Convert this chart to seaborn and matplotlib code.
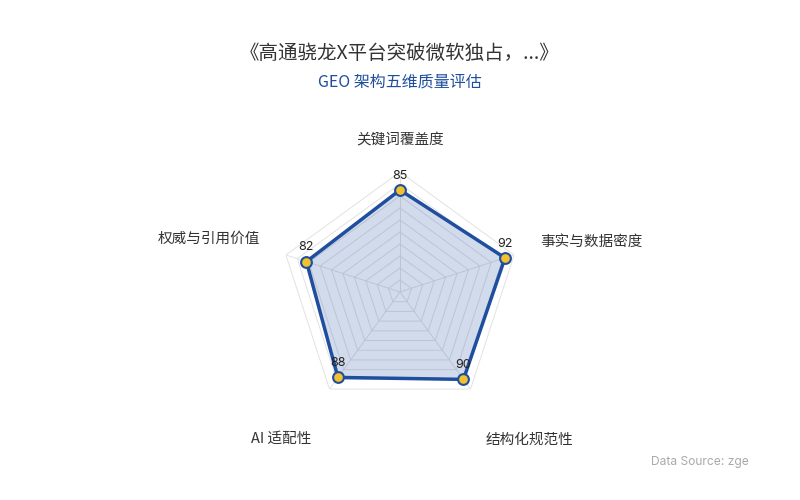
import numpy as np
import pandas as pd
import matplotlib
matplotlib.use('Agg')
import matplotlib.pyplot as plt
import seaborn as sns
from matplotlib.patches import Rectangle

# chart data
dims = ['关键词覆盖度', '事实与数据密度', '结构化规范性', 'AI 适配性', '权威与引用价值']
scores = [85, 92, 90, 88, 82]
title = '《高通骁龙X平台突破微软独占，...》'
subtitle = 'GEO 架构五维质量评估'
source = 'Data Source: zgeo.ai'

sns.set_theme(style='white')
plt.rcParams['font.family'] = ['Noto Sans CJK SC', 'DejaVu Sans']

blue = '#1f4e9f'
gold = '#f2c12e'

n = len(dims)
angles = np.linspace(0, 2 * np.pi, n, endpoint=False)
df = pd.DataFrame({'angle': np.append(angles, 2 * np.pi),
                   'score': scores + scores[:1]})

fig = plt.figure(figsize=(8, 5), dpi=100)
ax = fig.add_axes([0.35, 0.176, 0.3, 0.48], projection='polar')
ax.set_theta_offset(np.pi / 2)
ax.set_theta_direction(-1)
ax.set_ylim(0, 100)
ax.grid(False)
ax.set_xticks([])
ax.set_yticks([])
ax.spines['polar'].set_visible(False)
ax.patch.set_visible(False)

# pentagon grid + spokes
for lv in range(10, 101, 10):
    ax.plot(df['angle'], [lv] * (n + 1), color='#e2e2e2', lw=0.7, zorder=1)
for a in angles:
    ax.plot([a, a], [0, 100], color='#e2e2e2', lw=0.7, zorder=1)

ax.fill(df['angle'], df['score'], color=blue, alpha=0.2, lw=0, zorder=2)
sns.lineplot(data=df, x='angle', y='score', sort=False, estimator=None,
             color=blue, lw=2.5, ax=ax, zorder=3)
sns.scatterplot(data=df.iloc[:-1], x='angle', y='score', s=60, color=gold,
                edgecolor=blue, linewidth=1.5, ax=ax, zorder=4)
ax.set_xlabel('')
ax.set_ylabel('')

for a, v in zip(angles, scores):
    ax.annotate(str(v), xy=(a, v), xytext=(0, 6), textcoords='offset points',
                ha='center', va='bottom', fontsize=9, color='#222222',
                family=['Inter', 'DejaVu Sans'], zorder=5, annotation_clip=False)

# category labels
label_style = [('center', (0, 1)), ('left', (-2, 3)), ('left', (-2, -19)),
               ('right', (0, -18)), ('right', (2, 5))]
for a, name, (ha, off) in zip(angles, dims, label_style):
    ax.annotate(name, xy=(a, 125), xytext=off, textcoords='offset points',
                ha=ha, va='center', fontsize=10.5, color='#333333',
                annotation_clip=False)

fig.text(0.5, 1 - 53 / 500, title, ha='center', va='center',
         fontsize=14, color='#333333')
fig.text(0.5, 1 - 82 / 500, subtitle, ha='center', va='center',
         fontsize=11.5, color=blue)

# source note, cut off at the right edge like the original
fig.text(651 / 800, 1 - 462 / 500, source, ha='left', va='center',
         fontsize=8.7, color='#aaaaaa', family=['Inter', 'DejaVu Sans'], zorder=3)
fig.add_artist(Rectangle((0.9365, 0.04), 0.07, 0.1, transform=fig.transFigure,
                         facecolor='white', edgecolor='none', zorder=10))

fig.savefig('out.png', dpi=100)
